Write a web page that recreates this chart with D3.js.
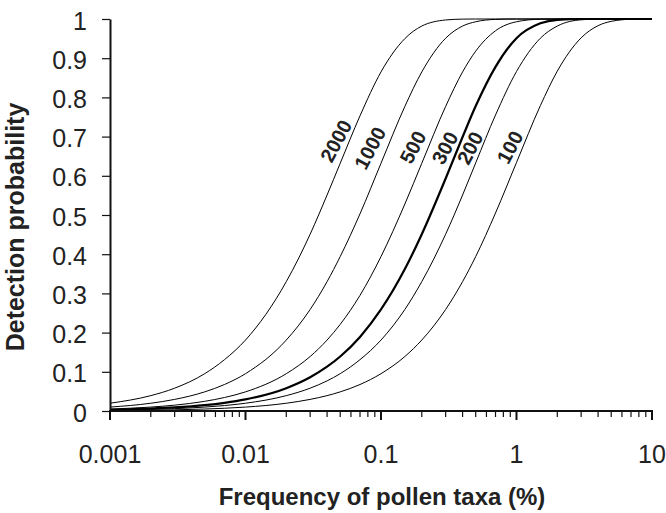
<!DOCTYPE html>
<html>
<head>
<meta charset="utf-8">
<script src="https://cdn.jsdelivr.net/npm/d3@7/dist/d3.min.js"></script>
<style>
  html, body { margin: 0; padding: 0; background: #fff; }
  svg { display: block; font-family: "Liberation Sans", Arial, sans-serif; }
</style>
</head>
<body>
<svg id="chart" width="666" height="513"></svg>
<script>
// ---- data ----
const freq = [0.001,0.002,0.003,0.005,0.007,0.01,0.02,0.03,0.04,0.05,0.07,0.1,0.15,0.2,0.3,0.4,0.5,0.7,1,1.5,2,3,4,5,7,10];
const counts = ["100","200","300","500","1000","2000"];
const p100  = [0.001,0.002,0.003,0.005,0.007,0.010,0.0198,0.0296,0.0392,0.0488,0.0676,0.0952,0.139,0.181,0.259,0.330,0.394,0.505,0.634,0.779,0.867,0.952,0.983,0.994,0.9993,1];
const p200  = [0.002,0.004,0.006,0.010,0.0139,0.0198,0.0392,0.0582,0.0769,0.0952,0.131,0.181,0.259,0.330,0.451,0.551,0.633,0.755,0.866,0.951,0.982,0.998,0.9997,1,1,1];
const p300  = [0.003,0.006,0.009,0.0149,0.0208,0.0296,0.0582,0.0861,0.113,0.139,0.189,0.259,0.362,0.451,0.593,0.699,0.778,0.878,0.951,0.989,0.998,1,1,1,1,1];
const p500  = [0.005,0.010,0.0149,0.0247,0.0344,0.0488,0.0952,0.139,0.181,0.221,0.295,0.394,0.528,0.632,0.777,0.865,0.918,0.970,0.993,0.9995,1,1,1,1,1,1];
const p1000 = [0.010,0.0198,0.0296,0.0488,0.0676,0.0952,0.181,0.259,0.330,0.394,0.503,0.632,0.777,0.865,0.951,0.982,0.993,0.999,1,1,1,1,1,1,1,1];
const p2000 = [0.0198,0.0392,0.0582,0.0952,0.131,0.181,0.330,0.451,0.551,0.632,0.753,0.865,0.950,0.982,0.9975,0.9997,1,1,1,1,1,1,1,1,1,1];
const seriesValues = [p100, p200, p300, p500, p1000, p2000];
// label anchors in data units (frequency %, probability)
const labelFreq = [0.895, 0.454, 0.296, 0.172, 0.083, 0.0466];
const labelProb = [0.673, 0.671, 0.671, 0.673, 0.671, 0.689];
const xTickLabels = ["0.001","0.01","0.1","1","10"];
const yTickLabels = ["0","0.1","0.2","0.3","0.4","0.5","0.6","0.7","0.8","0.9","1"];

// ---- layout ----
const svg = d3.select("#chart");
const mLeft = 110, mRight = 652, mTop = 19, mBottom = 411;
const textColor = "#222";

const x = d3.scaleLog().domain([0.001, 10]).range([mLeft, mRight]);
const y = d3.scaleLinear().domain([0, 1]).range([mBottom, mTop]);

// curves
const line = d3.line()
  .x(d => x(d[0]))
  .y(d => y(d[1]))
  .curve(d3.curveMonotoneX);

const g = svg.append("g");
seriesValues.forEach((vals, i) => {
  const pts = freq.map((f, j) => [f, vals[j]]);
  g.append("path")
    .attr("d", line(pts))
    .attr("fill", "none")
    .attr("stroke", "#000")
    .attr("stroke-width", counts[i] === "300" ? 2.2 : 1)
    .attr("stroke-linejoin", "round");
});

// curve labels
counts.forEach((c, i) => {
  svg.append("text")
    .attr("transform", `translate(${x(labelFreq[i])},${y(labelProb[i])}) rotate(-62)`)
    .attr("text-anchor", "middle")
    .attr("dy", "0.35em")
    .attr("font-size", 20)
    .attr("font-weight", "bold")
    .attr("fill", textColor)
    .text(c);
});

// y axis
const yTicks = yTickLabels.map(Number);
const yAxis = d3.axisLeft(y)
  .tickValues(yTicks)
  .tickFormat((d, i) => yTickLabels[i])
  .tickSize(8)
  .tickPadding(15)
  .tickSizeOuter(0);
const ya = svg.append("g").attr("transform", `translate(${mLeft},0)`).call(yAxis);
ya.select(".domain").attr("stroke", "#111").attr("stroke-width", 2);
ya.selectAll(".tick line").attr("stroke", "#111").attr("stroke-width", 1.2);
ya.selectAll(".tick text")
  .attr("font-size", 25).attr("fill", textColor)
  .attr("font-family", "Liberation Sans, Arial, sans-serif")
  .attr("dy", "0.4em");

// x axis: major ticks with labels, minor ticks without
const majors = xTickLabels.map(Number);
const minors = [];
for (let e = -3; e < 1; e++) {
  for (let k = 2; k <= 9; k++) minors.push(k * Math.pow(10, e));
}
const xa = svg.append("g").attr("transform", `translate(0,${mBottom})`);
xa.append("line")
  .attr("x1", mLeft).attr("x2", mRight)
  .attr("stroke", "#111").attr("stroke-width", 2);
xa.selectAll("line.minor").data(minors).join("line")
  .attr("class", "minor")
  .attr("x1", d => x(d)).attr("x2", d => x(d))
  .attr("y1", 0).attr("y2", 6)
  .attr("stroke", "#111").attr("stroke-width", 1.2);
xa.selectAll("line.major").data(majors).join("line")
  .attr("class", "major")
  .attr("x1", d => x(d)).attr("x2", d => x(d))
  .attr("y1", -1).attr("y2", 9)
  .attr("stroke", "#111").attr("stroke-width", 2);
xa.selectAll("text.xl").data(majors).join("text")
  .attr("class", "xl")
  .attr("x", d => x(d))
  .attr("y", 52)
  .attr("text-anchor", "middle")
  .attr("font-size", 25)
  .attr("fill", textColor)
  .text((d, i) => xTickLabels[i]);

// axis titles
svg.append("text")
  .attr("x", (mLeft + mRight) / 2 + 1)
  .attr("y", 505)
  .attr("text-anchor", "middle")
  .attr("font-size", 24)
  .attr("font-weight", "bold")
  .attr("fill", textColor)
  .text("Frequency of pollen taxa (%)");

svg.append("text")
  .attr("transform", `translate(24,227) rotate(-90)`)
  .attr("text-anchor", "middle")
  .attr("font-size", 25)
  .attr("font-weight", "bold")
  .attr("fill", textColor)
  .text("Detection probability");
</script>
</body>
</html>
